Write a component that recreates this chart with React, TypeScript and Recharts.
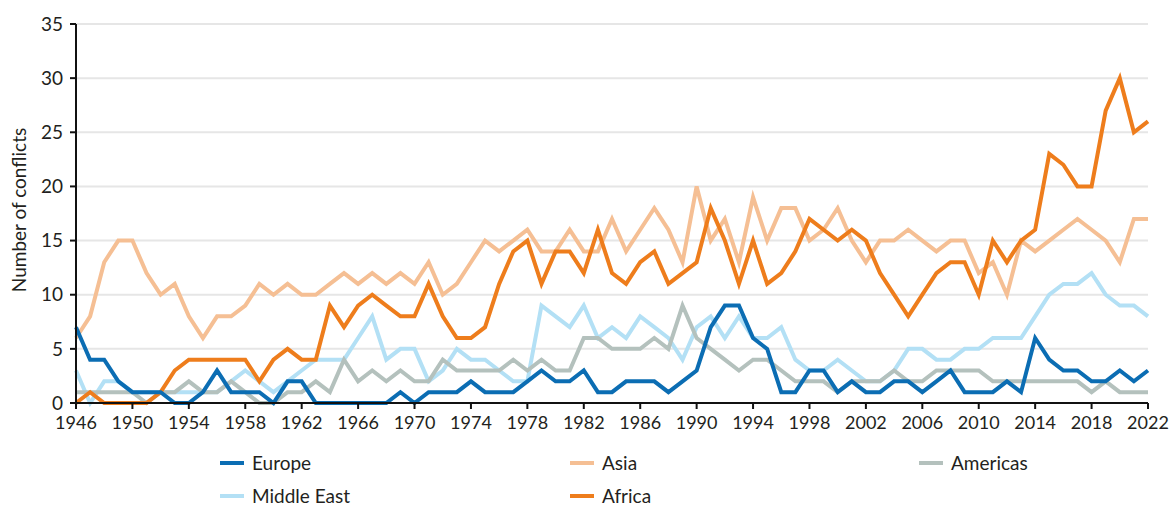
import React from 'react';
import { LineChart, Line, XAxis, YAxis, CartesianGrid } from 'recharts';

const years = Array.from({ length: 77 }, (_, i) => 1946 + i);

const europe = [
  7, 4, 4, 2, 1, 1, 1, 0, 0, 1,
  3, 1, 1, 1, 0, 2, 2, 0, 0, 0,
  0, 0, 0, 1, 0, 1, 1, 1, 2, 1,
  1, 1, 2, 3, 2, 2, 3, 1, 1, 2,
  2, 2, 1, 2, 3, 7, 9, 9, 6, 5,
  1, 1, 3, 3, 1, 2, 1, 1, 2, 2,
  1, 2, 3, 1, 1, 1, 2, 1, 6, 4,
  3, 3, 2, 2, 3, 2, 3
];

const asia = [
  6, 8, 13, 15, 15, 12, 10, 11, 8, 6,
  8, 8, 9, 11, 10, 11, 10, 10, 11, 12,
  11, 12, 11, 12, 11, 13, 10, 11, 13, 15,
  14, 15, 16, 14, 14, 16, 14, 14, 17, 14,
  16, 18, 16, 13, 20, 15, 17, 13, 19, 15,
  18, 18, 15, 16, 18, 15, 13, 15, 15, 16,
  15, 14, 15, 15, 12, 13, 10, 15, 14, 15,
  16, 17, 16, 15, 13, 17, 17
];

const americas = [
  1, 1, 1, 1, 1, 0, 1, 1, 2, 1,
  1, 2, 1, 0, 0, 1, 1, 2, 1, 4,
  2, 3, 2, 3, 2, 2, 4, 3, 3, 3,
  3, 4, 3, 4, 3, 3, 6, 6, 5, 5,
  5, 6, 5, 9, 6, 5, 4, 3, 4, 4,
  3, 2, 2, 2, 1, 2, 2, 2, 3, 2,
  2, 3, 3, 3, 3, 2, 2, 2, 2, 2,
  2, 2, 1, 2, 1, 1, 1
];

const middleEast = [
  3, 0, 2, 2, 1, 1, 1, 1, 1, 1,
  1, 2, 3, 2, 1, 2, 3, 4, 4, 4,
  6, 8, 4, 5, 5, 2, 3, 5, 4, 4,
  3, 2, 2, 9, 8, 7, 9, 6, 7, 6,
  8, 7, 6, 4, 7, 8, 6, 8, 6, 6,
  7, 4, 3, 3, 4, 3, 2, 2, 3, 5,
  5, 4, 4, 5, 5, 6, 6, 6, 8, 10,
  11, 11, 12, 10, 9, 9, 8
];

const africa = [
  0, 1, 0, 0, 0, 0, 1, 3, 4, 4,
  4, 4, 4, 2, 4, 5, 4, 4, 9, 7,
  9, 10, 9, 8, 8, 11, 8, 6, 6, 7,
  11, 14, 15, 11, 14, 14, 12, 16, 12, 11,
  13, 14, 11, 12, 13, 18, 15, 11, 15, 11,
  12, 14, 17, 16, 15, 16, 15, 12, 10, 8,
  10, 12, 13, 13, 10, 15, 13, 15, 16, 23,
  22, 20, 20, 27, 30, 25, 26
];

const xTicks = [1946, 1950, 1954, 1958, 1962, 1966, 1970, 1974, 1978, 1982, 1986, 1990, 1994, 1998, 2002, 2006, 2010, 2014, 2018, 2022];
const yTicks = [0, 5, 10, 15, 20, 25, 30, 35];

const data = years.map((year, i) => ({
  year,
  europe: europe[i],
  asia: asia[i],
  americas: americas[i],
  middleEast: middleEast[i],
  africa: africa[i]
}));

const FONT = 'Lato, "Open Sans", sans-serif';
const TEXT = '#231f20';

const legendItems = [
  { name: 'Europe', color: '#0b6db3', left: 220, top: 463 },
  { name: 'Asia', color: '#f5bf94', left: 570, top: 463 },
  { name: 'Americas', color: '#b4c1bd', left: 919, top: 463 },
  { name: 'Middle East', color: '#b3e0f5', left: 220, top: 496 },
  { name: 'Africa', color: '#ee7d1c', left: 570, top: 496 }
];

export default function App() {
  return (
    <div style={{
      position: 'absolute',
      left: 0,
      top: 0,
      width: 1174,
      height: 506,
      background: '#fff',
      fontFamily: FONT,
      color: TEXT
    }}>
      <LineChart
        width={1174}
        height={440}
        data={data}
        margin={{ top: 24, right: 26, left: 0, bottom: 0 }}
      >
        <CartesianGrid vertical={false} stroke="#e6e6e6" strokeWidth={2} />
        <XAxis
          dataKey="year"
          type="number"
          domain={[1946, 2022]}
          ticks={xTicks}
          height={37}
          stroke="#111"
          strokeWidth={2}
          tickSize={6}
          tickMargin={7}
          tick={{ fill: TEXT, fontSize: 18, fontFamily: FONT }}
        />
        <YAxis
          domain={[0, 35]}
          ticks={yTicks}
          width={76}
          stroke="#111"
          strokeWidth={2}
          tickSize={6}
          tickMargin={7}
          tick={{ fill: TEXT, fontSize: 19, fontFamily: FONT }}
        />
        <Line type="linear" dataKey="middleEast" stroke="#b3e0f5" strokeWidth={4} dot={false} isAnimationActive={false} />
        <Line type="linear" dataKey="americas" stroke="#b4c1bd" strokeWidth={4} dot={false} isAnimationActive={false} />
        <Line type="linear" dataKey="asia" stroke="#f5bf94" strokeWidth={4} dot={false} isAnimationActive={false} />
        <Line type="linear" dataKey="africa" stroke="#ee7d1c" strokeWidth={4} dot={false} isAnimationActive={false} />
        <Line type="linear" dataKey="europe" stroke="#0b6db3" strokeWidth={4} dot={false} isAnimationActive={false} />
      </LineChart>

      {/* y axis title */}
      <div style={{
        position: 'absolute',
        left: 18,
        top: 210,
        transform: 'translate(-50%, -50%) rotate(-90deg)',
        whiteSpace: 'nowrap',
        fontSize: 19
      }}>
        Number of conflicts
      </div>

      {/* Legend */}
      {legendItems.map(item => (
        <div key={item.name} style={{
          position: 'absolute',
          left: item.left,
          top: item.top,
          transform: 'translateY(-50%)',
          display: 'flex',
          alignItems: 'center',
          fontSize: 19,
          lineHeight: '18px',
          whiteSpace: 'nowrap'
        }}>
          <span style={{ display: 'inline-block', width: 24, height: 4, background: item.color, marginRight: 8 }} />
          {item.name}
        </div>
      ))}
    </div>
  );
}
